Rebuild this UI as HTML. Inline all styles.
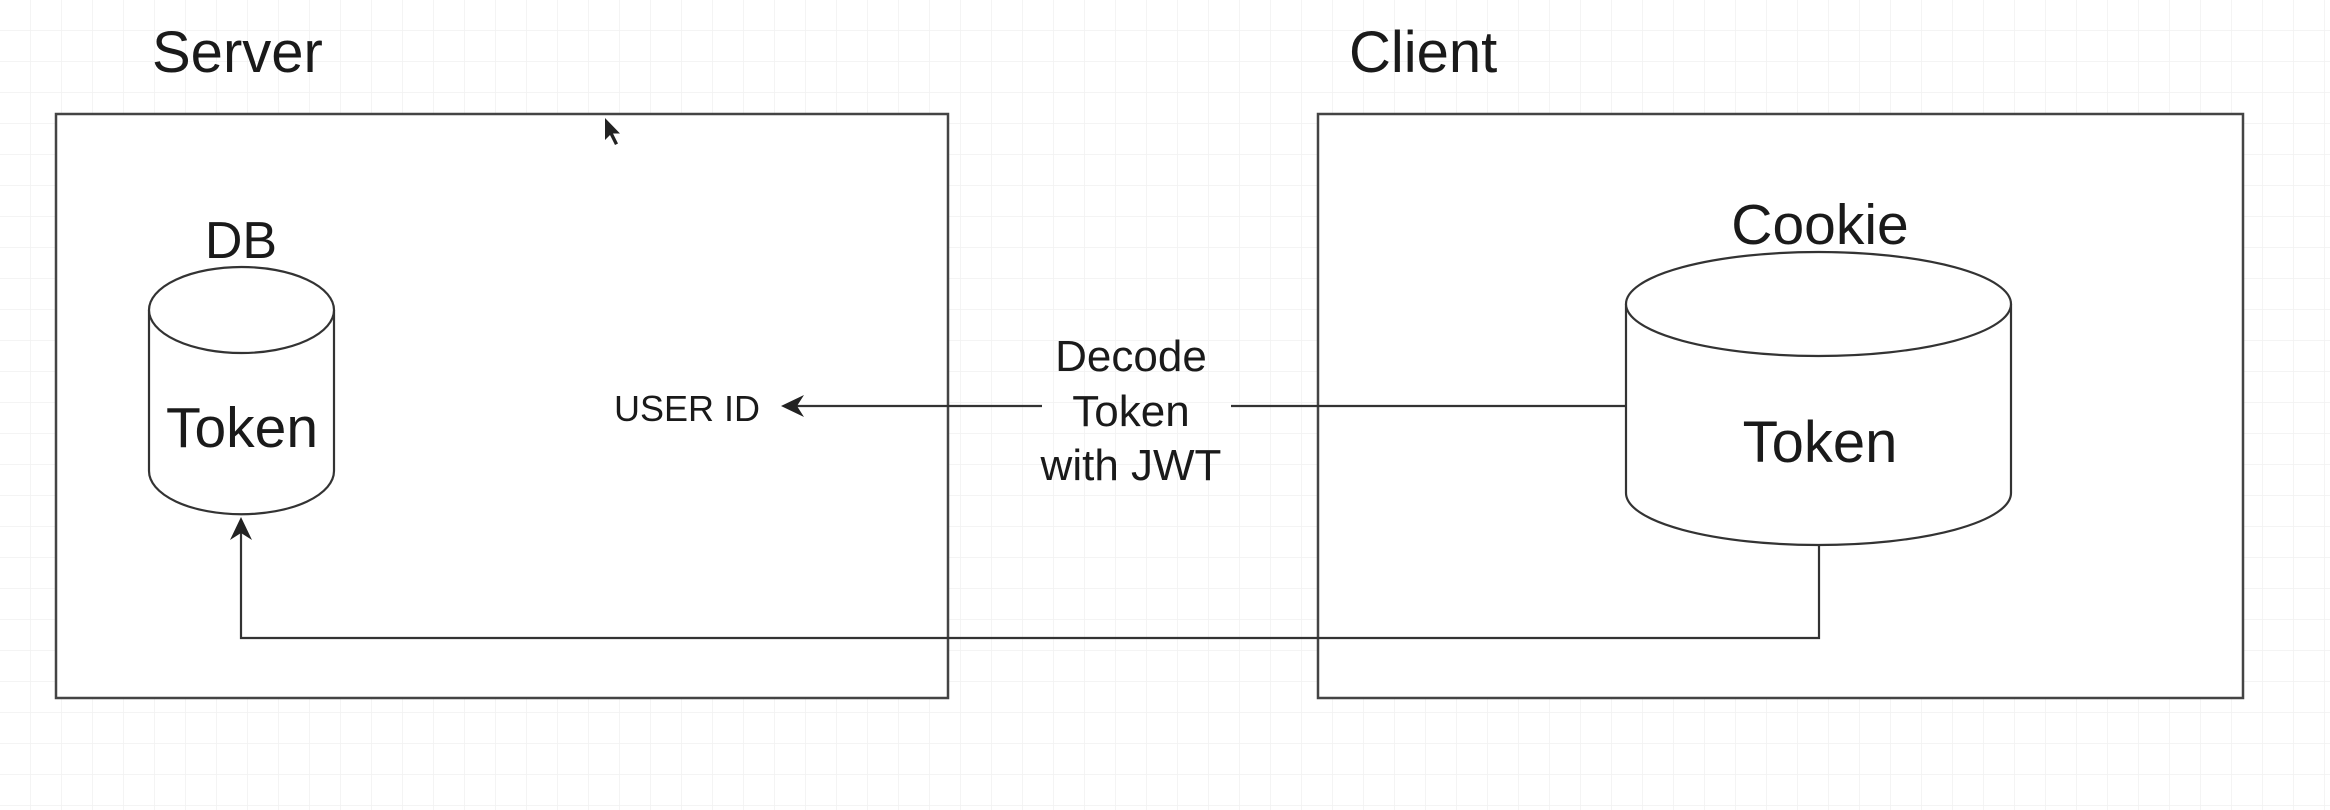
<!DOCTYPE html>
<html><head><meta charset="utf-8"><style>
html,body{margin:0;padding:0;background:#fff;}
svg{display:block;}
text{font-family:"Liberation Sans",Arial,sans-serif;fill:#1a1a1a;}
</style></head><body>
<svg width="2330" height="810" viewBox="0 0 2330 810" xmlns="http://www.w3.org/2000/svg">
<defs>
<pattern id="g" width="31" height="31" patternUnits="userSpaceOnUse">
<path d="M31 0V31M0 31H31" fill="none" stroke="#f1f1f1" stroke-width="1.5"/>
</pattern>
</defs>
<rect width="2330" height="810" fill="#fff"/>
<rect width="2330" height="810" fill="url(#g)"/>
<g fill="#fff" stroke="#444" stroke-width="2.5">
<rect x="56" y="114" width="892" height="584"/>
<rect x="1318" y="114" width="925" height="584"/>
</g>
<text x="152" y="72" font-size="58">Server</text>
<text x="1349" y="72" font-size="58">Client</text>
<!-- DB cylinder -->
<g fill="#fff" stroke="#333" stroke-width="2.2">
<path d="M149 310 V471 A92 43 0 0 0 334 471 V310"/>
<ellipse cx="241.5" cy="310" rx="92.5" ry="43"/>
<path d="M1626 304 V493 A192.5 52 0 0 0 2011 493 V304"/>
<ellipse cx="1818.5" cy="304" rx="192.5" ry="52"/>
</g>
<text x="241" y="258" font-size="52" text-anchor="middle">DB</text>
<text x="242" y="447" font-size="57" text-anchor="middle">Token</text>
<text x="1820" y="244" font-size="57" text-anchor="middle">Cookie</text>
<text x="1820" y="462" font-size="58" text-anchor="middle">Token</text>
<text x="687" y="421" font-size="36" text-anchor="middle">USER ID</text>
<g fill="none" stroke="#333" stroke-width="2.2">
<path d="M1626 406 H1231"/>
<path d="M1042 406 H790"/>
<path d="M1819 545 V638 H241 V528"/>
</g>
<path d="M781 406 L804 395 L797 406 L804 417 Z" fill="#222"/>
<path d="M241 517 L230 540 L241 533 L252 540 Z" fill="#222"/>
<g font-size="44" text-anchor="middle">
<text x="1131" y="371">Decode</text>
<text x="1131" y="426">Token</text>
<text x="1131" y="480">with JWT</text>
</g>
<path d="M605 118 l0 22 l5 -5 l5 10 l3 -1.5 l-5 -10 l7 0 z" fill="#222"/>
</svg>
</body></html>
